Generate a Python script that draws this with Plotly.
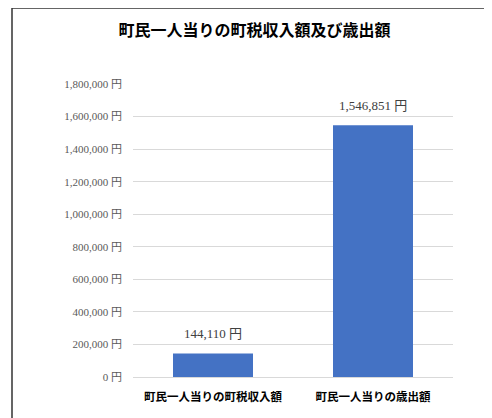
import plotly.graph_objects as go

categories = ["町民一人当りの町税収入額", "町民一人当りの歳出額"]
values = [144110, 1546851]
tick_vals = [0, 200000, 400000, 600000, 800000, 1000000, 1200000, 1400000, 1600000, 1800000]
tick_text = [f"{v:,} 円" for v in tick_vals]
value_labels = [f"{v:,} 円" for v in values]

# page body has an 8px margin, so the figure is drawn offset by 8px
OFF = 8
W, H = 492 - OFF, 418 - OFF
L, R, T, B = 133 - OFF, 39, 84 - OFF, 41
pw, ph = W - L - R, H - T - B

fig = go.Figure()
fig.add_trace(go.Bar(
    x=categories, y=values,
    marker=dict(color="#4472C4", line=dict(width=0)),
    hoverinfo="skip",
))

for c, v, t in zip(categories, values, value_labels):
    fig.add_annotation(x=c, y=v, text=t, showarrow=False, yanchor="middle", yshift=20,
                       font=dict(family="Liberation Serif, Noto Sans CJK JP", size=13, color="#404040"))

# chart border (left and top)
def px(x):
    return (x - OFF - L) / pw

def py(y):
    return (H - B - (y - OFF)) / ph

fig.add_shape(type="path", xref="paper", yref="paper",
              path=f"M {px(12)} {py(430)} L {px(12)} {py(8)} L {px(500)} {py(8)}",
              line=dict(color="#333333", width=1.5))

fig.update_layout(
    width=W, height=H,
    margin=dict(l=L, r=R, t=T, b=B),
    paper_bgcolor="white", plot_bgcolor="white",
    bargap=0.5,
    showlegend=False,
    title=dict(text="<b>町民一人当りの町税収入額及び歳出額</b>", x=(254.5 - OFF) / W, xanchor="center",
               y=1 - (30 - OFF) / H, yanchor="middle",
               font=dict(family="Noto Sans CJK JP", size=16, color="#000000")),
    xaxis=dict(showgrid=False, showline=False, ticks="", ticklabelstandoff=11,
               tickfont=dict(family="Noto Sans CJK JP", size=11.5, color="#000000", weight="bold")),
    yaxis=dict(range=[0, 1800000], tickvals=tick_vals, ticktext=tick_text,
               showgrid=True, gridcolor="#D9D9D9", gridwidth=1,
               zeroline=True, zerolinecolor="#D9D9D9", zerolinewidth=1,
               showline=False, ticks="", ticklabelstandoff=10,
               tickfont=dict(family="Liberation Serif, Noto Sans CJK JP", size=11, color="#595959")),
)

fig.write_html("out.html")
